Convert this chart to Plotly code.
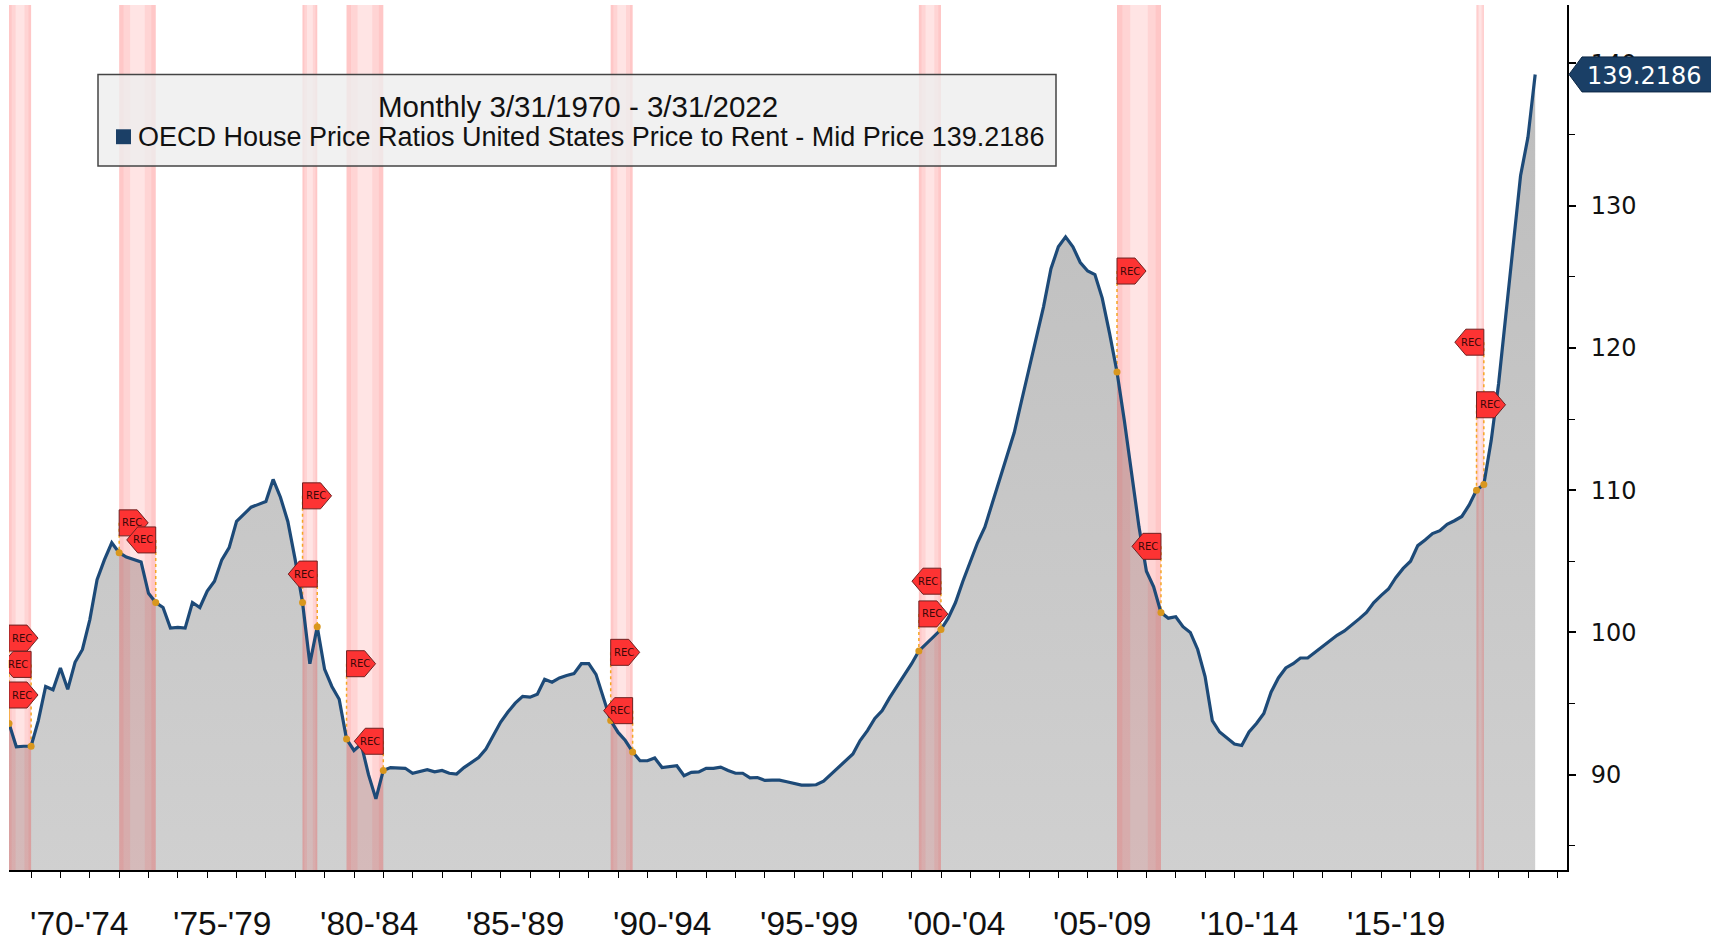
import plotly.graph_objects as go
import pandas as pd

# ---------------- data (quarterly, 3/31/1970 - 3/31/2022) ----------------
values = [
    93.6, 91.96, 92.0, 92.0,        # 1970
    93.8, 96.2, 95.97, 97.5,        # 1971
    96.0, 97.9, 98.8, 100.9,        # 1972
    103.7, 105.1, 106.3, 105.6,     # 1973
    105.3, 105.1, 104.95, 102.75,   # 1974
    102.1, 101.75, 100.3, 100.35,   # 1975
    100.3, 102.1, 101.75, 102.9,    # 1976
    103.6, 105.1, 105.96, 107.8,    # 1977
    108.3, 108.8, 109.0, 109.2,     # 1978
    110.75, 109.5, 107.8, 105.1,    # 1979
    102.1, 97.8, 100.4, 97.4,       # 1980
    96.2, 95.3, 92.5, 91.7,         # 1981
    92.15, 90.0, 88.3, 90.3,        # 1982
    90.5, 90.5, 90.45, 90.1,        # 1983
    90.2, 90.35, 90.2, 90.3,        # 1984
    90.1, 90.05, 90.5, 90.85,       # 1985
    91.2, 91.8, 92.7, 93.7,         # 1986
    94.4, 95.03, 95.5, 95.45,       # 1987
    95.66, 96.7, 96.5, 96.8,        # 1988
    96.97, 97.1, 97.8, 97.8,        # 1989
    97.05, 95.5, 93.8, 92.97,       # 1990
    92.4, 91.6, 90.98, 90.98,       # 1991
    91.17, 90.5, 90.55, 90.63,      # 1992
    89.93, 90.16, 90.2, 90.44,      # 1993
    90.44, 90.53, 90.3, 90.1,       # 1994
    90.1, 89.77, 89.8, 89.6,        # 1995
    89.62, 89.62, 89.5, 89.38,      # 1996
    89.27, 89.27, 89.29, 89.55,     # 1997
    90.0, 90.5, 90.98, 91.45,       # 1998
    92.4, 93.1, 93.95, 94.5,        # 1999
    95.4, 96.2, 96.95, 97.8,        # 2000
    98.7, 99.2, 99.75, 100.2,       # 2001
    101.0, 102.1, 103.6, 104.9,     # 2002
    106.3, 107.4, 109.05, 110.7,    # 2003
    112.4, 114.05, 116.3, 118.5,    # 2004
    120.6, 122.9, 125.56, 127.1,    # 2005
    127.8, 127.1, 126.0, 125.4,     # 2006
    125.15, 123.5, 121.0, 118.3,    # 2007
    114.9, 111.3, 107.4, 104.3,     # 2008
    103.2, 101.4, 101.0, 101.1,     # 2009
    100.4, 100.0, 98.8, 96.9,       # 2010
    93.8, 93.0, 92.6, 92.15,        # 2011
    92.05, 93.0, 93.6, 94.3,        # 2012
    95.8, 96.8, 97.5, 97.8,         # 2013
    98.2, 98.2, 98.6, 99.0,         # 2014
    99.4, 99.8, 100.1, 100.5,       # 2015
    100.95, 101.4, 102.1, 102.6,    # 2016
    103.05, 103.85, 104.5, 105.0,   # 2017
    106.1, 106.5, 106.95, 107.15,   # 2018
    107.6, 107.85, 108.15, 108.96,  # 2019
    110.0, 110.4, 113.5, 117.5,     # 2020
    122.3, 127.3, 132.1, 134.8,     # 2021
    139.2186,                       # 2022
]
quarter_ends = ["03-31", "06-30", "09-30", "12-31"]
dates = [f"{y}-{md}" for y in range(1970, 2023) for md in quarter_ends][:len(values)]

rec_start = ["1970-03-31", "1973-12-31", "1980-03-31", "1981-09-30",
             "1990-09-30", "2001-03-31", "2007-12-31", "2020-03-31"]
rec_end = ["1970-12-31", "1975-03-31", "1980-09-30", "1982-12-31",
           "1991-06-30", "2001-12-31", "2009-06-30", "2020-06-30"]

flag_dates = ["1970-03-31", "1970-12-31", "1970-03-31",
              "1973-12-31", "1975-03-31",
              "1980-03-31", "1980-09-30",
              "1981-09-30", "1982-12-31",
              "1990-09-30", "1991-06-30",
              "2001-12-31", "2001-03-31",
              "2007-12-31", "2009-06-30",
              "2020-06-30", "2020-03-31"]
flag_levels = [99.6, 97.75, 95.6,
               107.7, 106.5,
               109.6, 104.1,
               97.8, 92.35,
               98.6, 94.5,
               103.6, 101.3,
               125.4, 106.05,
               120.4, 116.0]
flag_dirs = ["right", "left", "right",
             "right", "left",
             "right", "left",
             "right", "left",
             "right", "left",
             "left", "right",
             "right", "left",
             "left", "right"]

period_starts = [1970, 1975, 1980, 1985, 1990, 1995, 2000, 2005, 2010, 2015]
period_labels = ["'70-'74", "'75-'79", "'80-'84", "'85-'89", "'90-'94",
                 "'95-'99", "'00-'04", "'05-'09", "'10-'14", "'15-'19"]

y_ticks = [90, 100, 110, 120, 130, 140]
y_minor = [85, 95, 105, 115, 125, 135]
last_value = values[-1]
legend_title = "Monthly 3/31/1970 - 3/31/2022"
legend_name = f"OECD House Price Ratios United States Price to Rent - Mid Price {last_value}"

# ---------------- styling ----------------
X_RANGE = ["1970-03-31", "2023-05-01"]
Y_RANGE = [83.3, 144.1]
LINE_COLOR = "#1d4a78"
NARROW = "Liberation Sans, Arial, sans-serif"
WIDE = "DejaVu Sans, Verdana, sans-serif"
W, H = 1711, 942
ML, MR, MT, MB = 9, 144, 5, 67
PW, PH = W - ML - MR, H - MT - MB


def px_x(px):
    return (px - ML) / PW


def px_y(py):
    return (H - MB - py) / PH


val_at = dict(zip(dates, values))

fig = go.Figure()

# gray area
fig.add_trace(go.Scatter(
    x=dates, y=values, mode="lines", line=dict(width=0),
    fill="tozeroy",
    fillgradient=dict(type="vertical", start=Y_RANGE[0], stop=last_value,
                      colorscale=[[0, "#d0d0d0"], [1, "#bdbdbd"]]),
    hoverinfo="skip", showlegend=False))

# recession bands (gradient made of overlapping strips)
strips = [(0.0, 1.0, 0.12), (0.0, 0.3, 0.08), (0.7, 1.0, 0.08),
          (0.0, 0.12, 0.07), (0.88, 1.0, 0.07)]
for s, e in zip(rec_start, rec_end):
    ts, te = pd.Timestamp(s), pd.Timestamp(e)
    for f0, f1, a in strips:
        a0 = ts + (te - ts) * f0
        a1 = ts + (te - ts) * f1
        fig.add_trace(go.Scatter(
            x=[a0, a0, a1, a1, a0],
            y=[Y_RANGE[0], Y_RANGE[1], Y_RANGE[1], Y_RANGE[0], Y_RANGE[0]],
            mode="lines", line=dict(width=0), fill="toself",
            fillcolor=f"rgba(255,30,30,{a})", hoverinfo="skip", showlegend=False))

# dotted connectors from flags to the series
cx, cy = [], []
for d, lv in zip(flag_dates, flag_levels):
    cx += [d, d, None]
    cy += [lv, val_at[d], None]
fig.add_trace(go.Scatter(x=cx, y=cy, mode="lines",
                         line=dict(color="#f5a623", width=1.5, dash="dot"),
                         hoverinfo="skip", showlegend=False))

# main line
fig.add_trace(go.Scatter(x=dates, y=values, mode="lines",
                         line=dict(color=LINE_COLOR, width=3.2),
                         hoverinfo="skip", showlegend=False))

# dots at recession edges
edge_dates = rec_start + rec_end
fig.add_trace(go.Scatter(x=edge_dates, y=[val_at[d] for d in edge_dates],
                         mode="markers",
                         marker=dict(color="#d9971e", size=7, line=dict(width=0)),
                         hoverinfo="skip", showlegend=False))

shapes = []
annotations = []

# REC flags
right_path = "M0,-13 L18,-13 L29,0 L18,13 L0,13 Z"
left_path = "M0,-13 L-18,-13 L-29,0 L-18,13 L0,13 Z"
for d, lv, dr in zip(flag_dates, flag_levels, flag_dirs):
    shapes.append(dict(type="path", xref="x", yref="y",
                       xsizemode="pixel", ysizemode="pixel",
                       xanchor=d, yanchor=lv,
                       path=right_path if dr == "right" else left_path,
                       fillcolor="#fd3333", line=dict(color="#6e2222", width=1),
                       layer="above"))
    annotations.append(dict(x=d, y=lv, xref="x", yref="y", text="REC",
                            showarrow=False, xshift=13 if dr == "right" else -13,
                            font=dict(family=WIDE, size=10, color="#3a0808")))

# legend box
shapes.append(dict(type="rect", xref="paper", yref="paper",
                   x0=px_x(98), x1=px_x(1056), y0=px_y(167), y1=px_y(75),
                   fillcolor="rgba(238,238,238,0.8)",
                   line=dict(color="#444444", width=1.5), layer="above"))
shapes.append(dict(type="rect", xref="paper", yref="paper",
                   x0=px_x(116), x1=px_x(131), y0=px_y(145), y1=px_y(130),
                   fillcolor="#1b3f66", line=dict(width=0), layer="above"))
annotations.append(dict(x=px_x(578), y=px_y(107), xref="paper", yref="paper",
                        xanchor="center", yanchor="middle",
                        text=legend_title, showarrow=False,
                        font=dict(family=NARROW, size=29.5, color="#111111")))
annotations.append(dict(x=px_x(136), y=px_y(138), xref="paper", yref="paper",
                        xanchor="left", yanchor="middle",
                        text=legend_name, showarrow=False,
                        font=dict(family=NARROW, size=27, color="#111111")))

# last value tag on the right axis
shapes.append(dict(type="path", xref="paper", yref="y",
                   xsizemode="pixel", ysizemode="pixel",
                   xanchor=1, yanchor=last_value,
                   path="M2,0 L15,-17.5 L170,-17.5 L170,17.5 L15,17.5 Z",
                   fillcolor="#1a3f66", line=dict(color="#0c2744", width=1),
                   layer="above"))
annotations.append(dict(x=1, y=last_value, xref="paper", yref="y",
                        xanchor="left", yanchor="middle", xshift=18, yshift=-2,
                        text=f"{last_value}", showarrow=False,
                        font=dict(family=WIDE, size=24, color="white")))

# period labels on the x axis
x0 = pd.Timestamp(X_RANGE[0])
for ys, lab in zip(period_starts, period_labels):
    a = max(pd.Timestamp(f"{ys}-01-01"), x0)
    b = pd.Timestamp(f"{ys + 5}-01-01")
    mid = a + (b - a) / 2
    annotations.append(dict(x=mid, y=px_y(929), xref="x", yref="paper",
                            text=lab, showarrow=False,
                            xanchor="center", yanchor="middle",
                            font=dict(family=NARROW, size=33.5, color="#111111")))

sep_vals = [f"{y}-01-01" for y in range(1975, 2021, 5)]
year_vals = [f"{y}-01-01" for y in range(1971, 2024)]

fig.update_layout(
    width=W, height=H, autosize=False,
    margin=dict(l=ML, r=MR, t=MT, b=MB, pad=0),
    paper_bgcolor="white", plot_bgcolor="white",
    showlegend=False,
    shapes=shapes, annotations=annotations,
    xaxis=dict(type="date", range=X_RANGE, showgrid=False, zeroline=False,
               showline=True, linecolor="black", linewidth=2,
               tickmode="array", tickvals=sep_vals, ticktext=[""] * len(sep_vals),
               ticks="outside", ticklen=67, tickcolor="#9a9a9a", tickwidth=1,
               showticklabels=False,
               minor=dict(tickmode="array", tickvals=year_vals, ticks="outside",
                          ticklen=6, tickcolor="black", tickwidth=1, showgrid=False)),
    yaxis=dict(side="right", range=Y_RANGE, showgrid=False, zeroline=False,
               showline=True, linecolor="black", linewidth=2,
               tickmode="array", tickvals=y_ticks, ticks="outside", ticklen=7,
               tickwidth=2, tickcolor="black", ticklabelstandoff=10,
               tickfont=dict(family=WIDE, size=24, color="#111111"),
               minor=dict(tickmode="array", tickvals=y_minor, ticks="outside",
                          ticklen=6, tickcolor="black", tickwidth=1, showgrid=False)),
)

fig.write_html("out.html",
               config={"displayModeBar": False},
               post_script="document.body.style.margin='0px';"
                           "document.body.style.overflow='hidden';")
